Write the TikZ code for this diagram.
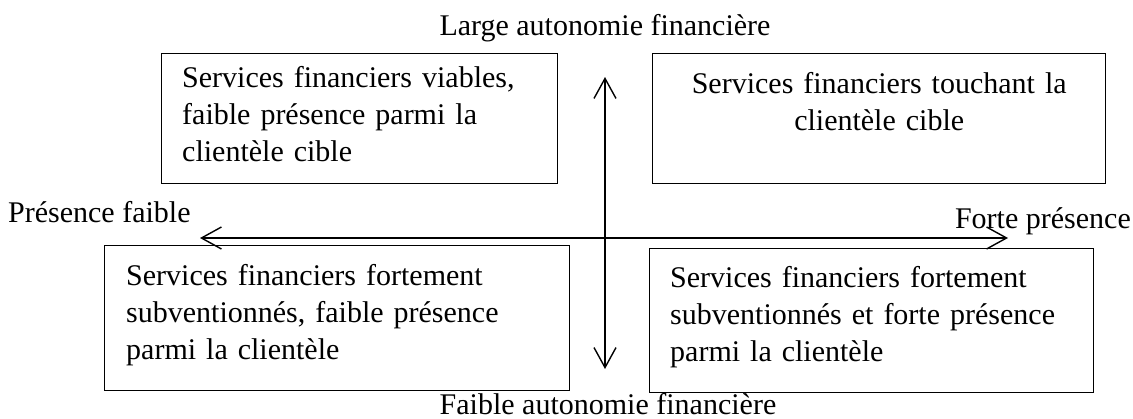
\documentclass[tikz,border=0pt]{standalone}
\usepackage{fontspec}
\setmainfont{Liberation Serif}
\usetikzlibrary{arrows.meta,calc}
\begin{document}
\begin{tikzpicture}[x=1pt,y=-1pt,
  box/.style={draw, line width=1.4pt, anchor=north west, inner sep=0pt},
  txt/.style={font=\fontsize{30}{37}\selectfont, inner sep=0pt},
  axis/.style={line width=1.4pt, {Straight Barb[length=20pt,width=22pt,line width=1.4pt]}-{Straight Barb[length=20pt,width=22pt,line width=1.4pt]}}]
\useasboundingbox (0,0) rectangle (1133,418);
% boxes
\node[box, minimum width=396pt, minimum height=130pt] (tl) at (161,53) {};
\node[box, minimum width=453pt, minimum height=130pt] (tr) at (652,53) {};
\node[box, minimum width=465pt, minimum height=145pt] (bl) at (104,245) {};
\node[box, minimum width=444pt, minimum height=144pt] (br) at (649,248) {};
% box texts
\node[txt, anchor=base west, text width=370pt, align=left] (tlt) at ($(tl.north west)+(21,34)$)
  {Services financiers viables,\\faible présence parmi la\\clientèle cible};
\node[txt, anchor=base, text width=430pt, align=center] (trt) at ($(tr.north)+(0,40)$)
  {Services financiers touchant la\\clientèle cible};
\node[txt, anchor=base west, text width=440pt, align=left] (blt) at ($(bl.north west)+(22,40)$)
  {Services financiers fortement\\subventionnés, faible présence\\parmi la clientèle};
\node[txt, anchor=base west, text width=420pt, align=left] (brt) at ($(br.north west)+(21,39)$)
  {Services financiers fortement\\subventionnés et forte présence\\parmi la clientèle};
% axes
\coordinate (vt) at (605,77);
\coordinate (vb) at (605,369);
\coordinate (hl) at (200,238);
\coordinate (hr) at (1008,238);
\draw[axis] (vb) -- (vt);
\draw[axis] (hl) -- (hr);
% axis labels
\node[txt, anchor=base] (top) at (605,35) {Large autonomie financière};
\node[txt, anchor=base] (bot) at (608,414) {Faible autonomie financière};
\node[txt, anchor=base west] (left) at (8,222) {Présence faible};
\node[txt, anchor=base east] (right) at (1131,228) {Forte présence};
\end{tikzpicture}
\end{document}
